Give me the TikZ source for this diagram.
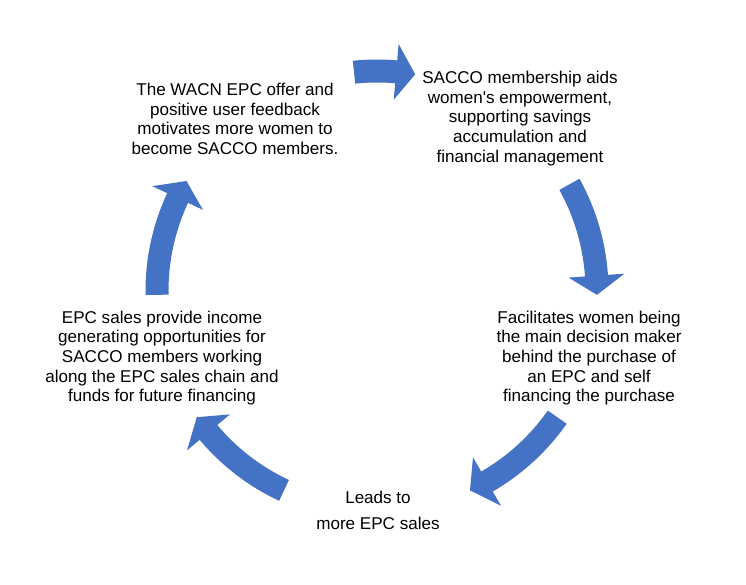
\documentclass[tikz,border=0pt]{standalone}
\usepackage{fontspec}
\setmainfont{Liberation Sans}
\definecolor{cycleblue}{HTML}{4472C4}
\tikzset{
	cycletext/.style={align=center, inner sep=0pt, font=\fontsize{12.8}{14.7}\selectfont},
	cyclearrow/.style={fill=cycleblue}
}
\begin{document}
\begin{tikzpicture}[x=0.75pt,y=0.75pt]
\useasboundingbox (0,0) rectangle (746,585);
\coordinate (centre) at (377,294);

% curved block arrows, tail angle / tip angle
\foreach \a/\b [evaluate=\b as \h using \b+5] in {96/80, 29/-1, -35/-65, -115/-145, 181/150}
	\fill[cyclearrow, shift={(centre)}] (\a:231.5) arc[start angle=\a, end angle=\h, radius=231.5]
		-- (\h:248) -- (\b:220) -- (\h:192) -- (\h:208.5)
		arc[start angle=\h, end angle=\a, radius=208.5] -- cycle;

\node[cycletext] (offer) at (235,466) {The WACN EPC offer and\\positive user feedback\\motivates more women to\\become SACCO members.};
\node[cycletext] (membership) at (520,466.5) {SACCO membership aids\\women\textquotesingle s empowerment,\\supporting savings\\accumulation and\\financial management};
\node[cycletext] (purchase) at (589,227) {Facilitates women being\\the main decision maker\\behind the purchase of\\an EPC and self\\financing the purchase};
\node[cycletext, font=\fontsize{12.8}{19.5}\selectfont] (sales) at (378,75) {Leads to\\more EPC sales};
\node[cycletext] (income) at (162,227) {EPC sales provide income\\generating opportunities for\\SACCO members working\\along the EPC sales chain and\\funds for future financing};
\end{tikzpicture}
\end{document}
